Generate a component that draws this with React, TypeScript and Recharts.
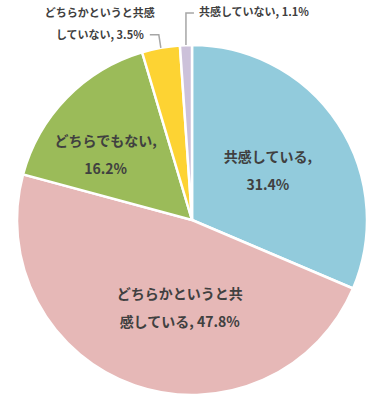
import { PieChart, Pie, Cell } from "recharts";

const categories = [
  "共感している",
  "どちらかというと共感している",
  "どちらでもない",
  "どちらかというと共感していない",
  "共感していない",
];
const shares = [31.4, 47.8, 16.2, 3.5, 1.1];
const labelLines = [
  ["共感している,", "31.4%"],
  ["どちらかというと共", "感している, 47.8%"],
  ["どちらでもない,", "16.2%"],
  ["どちらかというと共感", "していない, 3.5%"],
  ["共感していない, 1.1%"],
];

const colors = ["#92CBDC", "#E6B8B7", "#9BBB59", "#FDD333", "#CCC1DA"];

// inner label placement: radius fraction + angle nudge (deg)
const innerPlace = [
  { r: 0.52, turn: 0 },
  { r: 0.5, turn: 11 },
  { r: 0.62, turn: 7 },
];

const data = categories.map((name, i) => ({ name, value: shares[i] }));

const RAD = Math.PI / 180;
const textColor = "#404040";
const font = "'Noto Sans CJK JP', 'Noto Sans', sans-serif";

function renderLabel(props: any) {
  const { cx, cy, midAngle, outerRadius, index } = props;
  const lines = labelLines[index];

  if (index < 3) {
    const p = innerPlace[index];
    const a = (midAngle + p.turn) * RAD;
    const x = cx + outerRadius * p.r * Math.cos(a);
    const y = cy - outerRadius * p.r * Math.sin(a);
    const gap = 28;
    const top = y - ((lines.length - 1) * gap) / 2;
    return (
      <text
        x={x}
        y={top}
        textAnchor="middle"
        dominantBaseline="central"
        fill={textColor}
        fontFamily={font}
        fontWeight={700}
        fontSize={14}
      >
        {lines.map((l, k) => (
          <tspan key={k} x={x} y={top + k * gap}>
            {l}
          </tspan>
        ))}
      </text>
    );
  }

  const a = midAngle * RAD;
  const px = cx + outerRadius * Math.cos(a);
  const py = cy - outerRadius * Math.sin(a);

  if (index === 3) {
    const ex = px - 2;
    const ey = py - 13;
    const hx = ex - 9;
    const tx = hx - 50;
    return (
      <g>
        <polyline
          points={`${px},${py} ${ex},${ey} ${hx},${ey}`}
          fill="none"
          stroke="#A6A6A6"
          strokeWidth={1.5}
        />
        <text
          textAnchor="middle"
          dominantBaseline="central"
          fill={textColor}
          fontFamily={font}
          fontWeight={700}
          fontSize={11}
        >
          {lines.map((l, k) => (
            <tspan key={k} x={tx} y={ey - 1 - (lines.length - 1 - k) * 22}>
              {l}
            </tspan>
          ))}
        </text>
      </g>
    );
  }

  const ey = py - 32;
  const hx = px + 8;
  return (
    <g>
      <polyline
        points={`${px},${py} ${px},${ey} ${hx},${ey}`}
        fill="none"
        stroke="#A6A6A6"
        strokeWidth={1.5}
      />
      <text
        x={hx + 5}
        y={ey - 2}
        textAnchor="start"
        dominantBaseline="central"
        fill={textColor}
        fontFamily={font}
        fontWeight={700}
        fontSize={11}
      >
        {lines[0]}
      </text>
    </g>
  );
}

export default function App() {
  return (
    <div style={{ position: "absolute", left: 0, top: 0, background: "#fff" }}>
      <PieChart
        width={385}
        height={400}
        margin={{ top: 0, right: 0, bottom: 0, left: 0 }}
      >
        <Pie
          data={data}
          dataKey="value"
          nameKey="name"
          cx={192}
          cy={220}
          outerRadius={175}
          startAngle={90}
          endAngle={-270}
          stroke="#ffffff"
          strokeWidth={2.5}
          label={renderLabel}
          labelLine={false}
          isAnimationActive={false}
        >
          {data.map((d, i) => (
            <Cell key={d.name} fill={colors[i]} />
          ))}
        </Pie>
      </PieChart>
    </div>
  );
}
